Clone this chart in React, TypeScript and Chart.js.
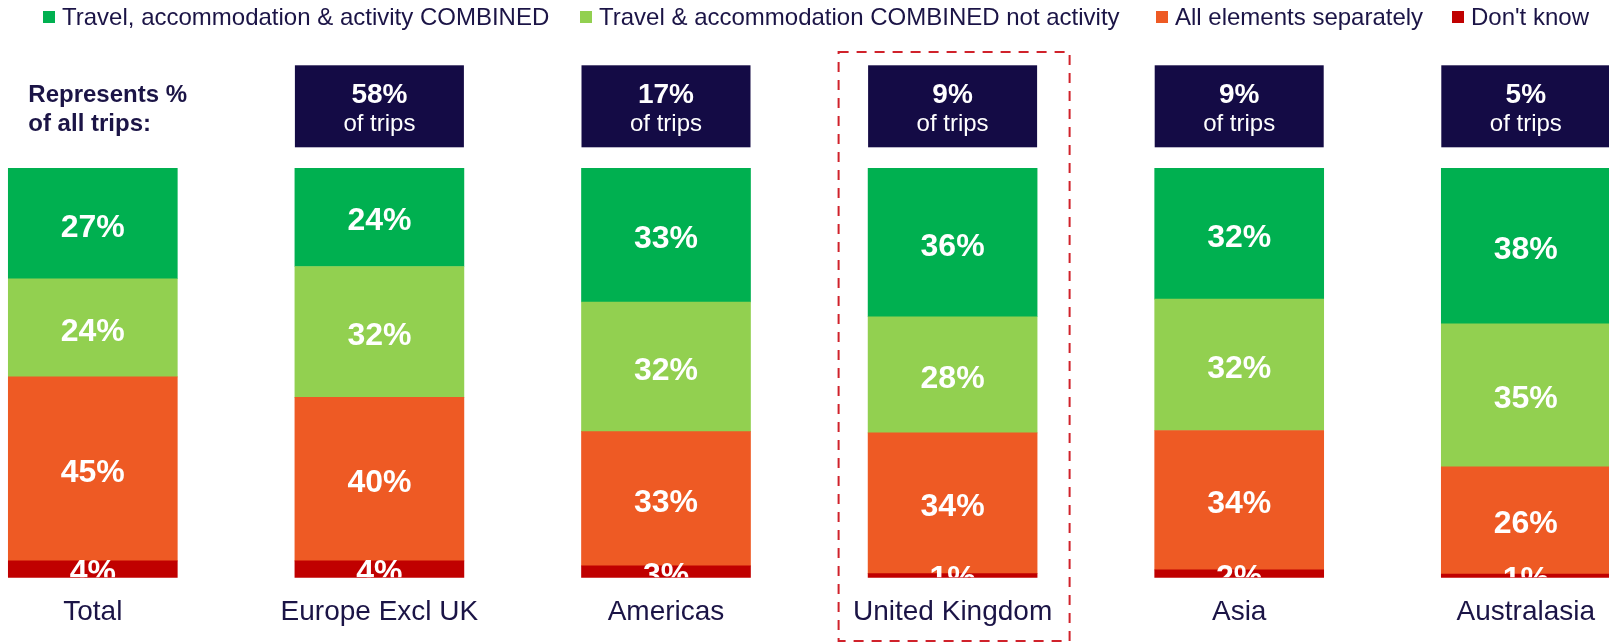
import React, { useEffect, useRef } from 'react';
import { Chart, registerables } from 'chart.js';

Chart.register(...registerables);

// ---- data ----
const categories = ['Total', 'Europe Excl UK', 'Americas', 'United Kingdom', 'Asia', 'Australasia'];
const tripShares: (number | null)[] = [null, 58, 17, 9, 9, 5];
const combinedAll = [27, 24, 32.7, 36.3, 32, 38];
const combinedNoActivity = [24, 32, 31.7, 28.4, 32.1, 35];
const allSeparately = [45, 40, 32.8, 34.4, 34.1, 26.2];
const dontKnow = [4, 4, 2.8, 0.9, 1.8, 0.8];
const seriesNames = [
  "Don't know",
  'All elements separately',
  'Travel & accommodation COMBINED not activity',
  'Travel, accommodation & activity COMBINED',
];
const highlightCategory = 'United Kingdom';

// ---- styles ----
const FONT = '"Liberation Sans", Arial, Helvetica, sans-serif';
const NAVY_BOX = '#140B45';
const NAVY_TEXT = '#1B1446';
const COLORS = ['#C00000', '#EE5A24', '#92D050', '#00B050'];
const BAR_W = 169;

const overlayPlugin = {
  id: 'overlay',
  afterDatasetsDraw(chart: any) {
    const { ctx, chartArea } = chart;
    const xs = chart.scales.x;

    // value labels, clipped at the bottom of the bars
    ctx.save();
    ctx.beginPath();
    ctx.rect(0, chartArea.top - 10, chart.width, chartArea.bottom - chartArea.top + 10);
    ctx.clip();
    ctx.font = `bold 32px ${FONT}`;
    ctx.fillStyle = '#FFFFFF';
    ctx.textAlign = 'center';
    ctx.textBaseline = 'alphabetic';
    chart.data.datasets.forEach((ds: any, di: number) => {
      const meta = chart.getDatasetMeta(di);
      meta.data.forEach((bar: any, i: number) => {
        const p = bar.getProps(['x', 'y', 'base'], true);
        const cy = (p.y + p.base) / 2;
        ctx.fillText(Math.round(ds.data[i]) + '%', p.x, cy + 13);
      });
    });
    ctx.restore();

    ctx.save();
    // navy share boxes
    categories.forEach((c, i) => {
      const cx = xs.getPixelForValue(i);
      const share = tripShares[i];
      if (share === null) {
        ctx.fillStyle = NAVY_TEXT;
        ctx.font = `bold 24px ${FONT}`;
        ctx.textAlign = 'left';
        ctx.fillText('Represents %', cx - BAR_W / 2 + 20, 102);
        ctx.fillText('of all trips:', cx - BAR_W / 2 + 20, 131);
      } else {
        ctx.fillStyle = NAVY_BOX;
        ctx.fillRect(cx - BAR_W / 2, 65.3, BAR_W, 82);
        ctx.fillStyle = '#FFFFFF';
        ctx.textAlign = 'center';
        ctx.font = `bold 28px ${FONT}`;
        ctx.fillText(share + '%', cx, 103);
        ctx.font = `24px ${FONT}`;
        ctx.fillText('of trips', cx, 131);
      }
      // category labels
      ctx.fillStyle = NAVY_TEXT;
      ctx.textAlign = 'center';
      ctx.font = `28px ${FONT}`;
      ctx.fillText(c, cx, 620);
    });

    // dashed highlight box
    const hi = categories.indexOf(highlightCategory);
    if (hi >= 0) {
      const cx = xs.getPixelForValue(hi);
      ctx.strokeStyle = '#D0222B';
      ctx.lineWidth = 2;
      ctx.setLineDash([10, 8]);
      ctx.strokeRect(cx - 114, 52, 231, 589);
      ctx.setLineDash([]);
    }

    // legend
    const legendX = [43, 580, 1156, 1452];
    const order = [3, 2, 1, 0];
    ctx.font = `24px ${FONT}`;
    ctx.textAlign = 'left';
    order.forEach((di, k) => {
      const ds = chart.data.datasets[di];
      ctx.fillStyle = ds.backgroundColor;
      ctx.fillRect(legendX[k], 11, 12, 12);
      ctx.fillStyle = NAVY_TEXT;
      ctx.fillText(ds.label, legendX[k] + 19, 25);
    });
    ctx.restore();
  },
};

export default function App() {
  const canvasRef = useRef<HTMLCanvasElement | null>(null);

  useEffect(() => {
    if (!canvasRef.current) return;
    const series = [dontKnow, allSeparately, combinedNoActivity, combinedAll];
    const chart = new Chart(canvasRef.current, {
      type: 'bar',
      data: {
        labels: categories,
        datasets: series.map((d, i) => ({
          label: seriesNames[i],
          data: d,
          backgroundColor: COLORS[i],
          borderWidth: 0,
          barThickness: BAR_W,
          clip: false as any,
        })),
      },
      options: {
        responsive: false,
        maintainAspectRatio: false,
        devicePixelRatio: 1,
        animation: false,
        layout: { padding: { left: 92.8, right: 83.2, top: 168.3, bottom: 65.7 } },
        scales: {
          x: { type: 'category', display: false, stacked: true, offset: false, grid: { offset: false } },
          y: { display: false, stacked: true, min: 0, max: 100 },
        },
        plugins: {
          legend: { display: false },
          tooltip: { enabled: false },
        },
      },
      plugins: [overlayPlugin],
    });
    return () => chart.destroy();
  }, []);

  return (
    <div style={{ position: 'absolute', left: 0, top: 0, width: 1609, height: 643, background: '#fff' }}>
      <canvas ref={canvasRef} width={1609} height={643} />
    </div>
  );
}
